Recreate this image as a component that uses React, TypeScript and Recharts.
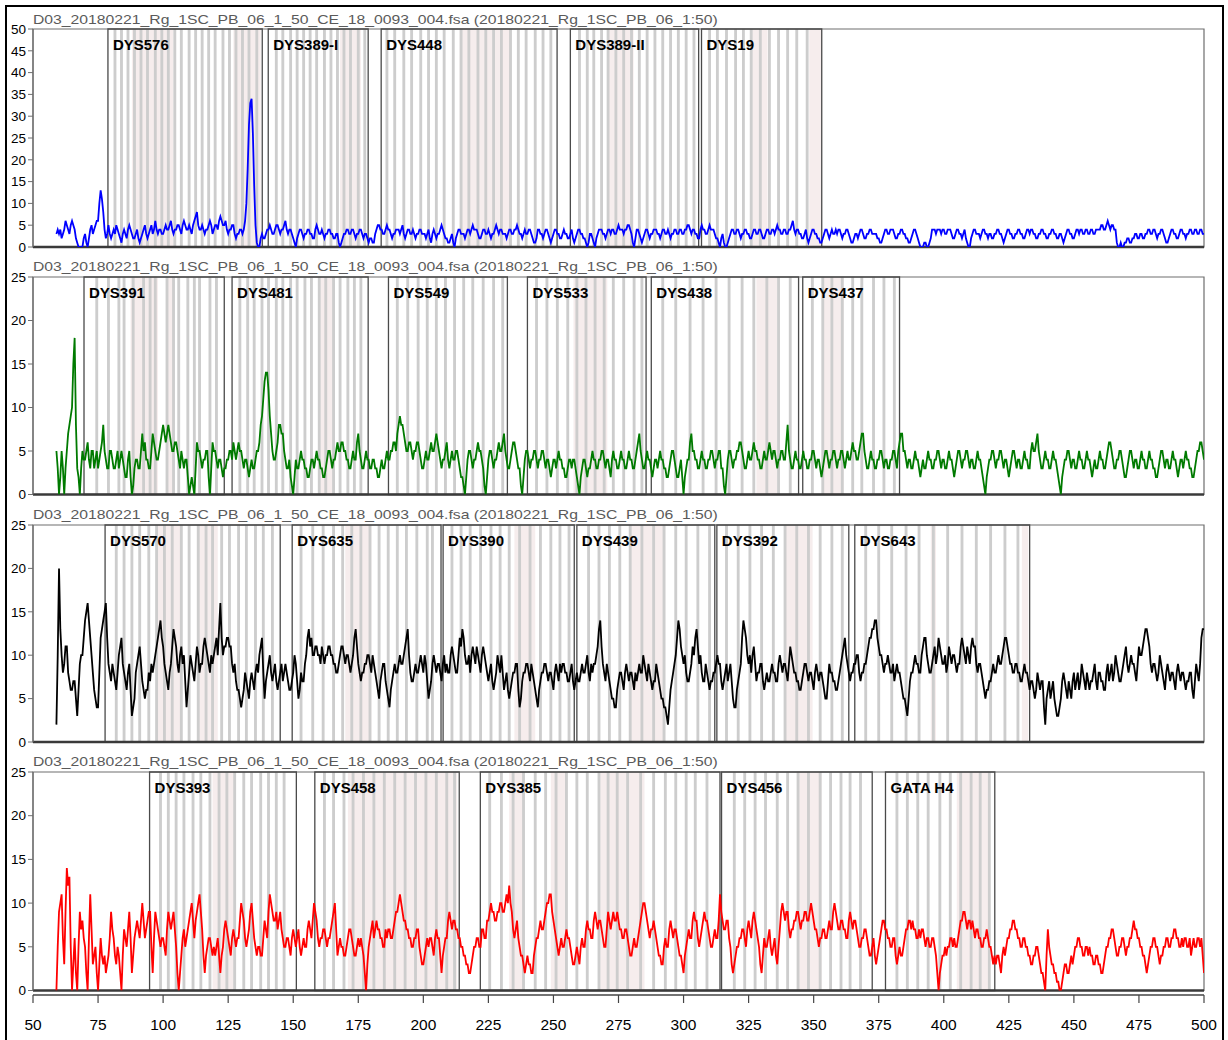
import React from 'react';
import { LineChart, Line, XAxis, YAxis, ReferenceArea, ReferenceLine } from 'recharts';

const FONT = 'Arial, "Liberation Sans", Helvetica, sans-serif';
const TITLE = 'D03_20180221_Rg_1SC_PB_06_1_50_CE_18_0093_004.fsa (20180221_Rg_1SC_PB_06_1:50)';
const START_BP = 59;
const STEP_BP = 0.5;
const X_TICKS = [50, 75, 100, 125, 150, 175, 200, 225, 250, 275, 300, 325, 350, 375, 400, 425, 450, 475, 500];
const Y_TICKS_50 = [0, 5, 10, 15, 20, 25, 30, 35, 40, 45, 50];
const Y_TICKS_25 = [0, 5, 10, 15, 20, 25];

// ---- traces (RFU, one value per 0.5 bp from 59 to 500; each row = 10 bp) ----
const blueValues = [
  3, 4,
  3, 4, 2, 3, 4, 6, 5, 4, 3, 5, 6, 5, 4, 2, 1, 0, 0, 0, 0, 2, 3, 1, 0, 2, 4, 5, 3, 4, 5, 6, 6, 10, 13, 11, 8, 4, 2, 3, 5, 3,
  2, 3, 4, 3, 5, 4, 3, 2, 1, 3, 4, 3, 2, 4, 5, 4, 3, 2, 2, 3, 4, 2, 1, 2, 3, 4, 5, 3, 2, 3, 4, 5, 3, 4, 6, 4, 3, 4, 4, 3,
  3, 4, 5, 4, 4, 5, 6, 4, 3, 4, 4, 5, 5, 4, 3, 5, 6, 5, 4, 4, 5, 4, 3, 5, 6, 7, 8, 5, 4, 4, 5, 4, 3, 4, 4, 5, 6, 5, 3, 4,
  5, 5, 4, 6, 7, 6, 5, 5, 6, 4, 3, 4, 4, 5, 5, 3, 2, 3, 3, 4, 4, 3, 4, 6, 10, 18, 28, 33, 34, 26, 14, 5, 1, 0, 0, 2, 3, 2, 2, 3,
  4, 4, 5, 4, 3, 3, 4, 5, 5, 4, 3, 4, 4, 5, 6, 4, 3, 4, 4, 3, 2, 1, 0, 2, 3, 4, 4, 3, 2, 3, 3, 4, 4, 3, 3, 2, 2, 4, 5, 4,
  3, 3, 4, 3, 2, 3, 3, 4, 4, 3, 3, 2, 2, 3, 3, 1, 0, 1, 2, 3, 3, 4, 4, 3, 3, 4, 4, 3, 2, 3, 3, 4, 4, 3, 2, 3, 3, 2, 1, 2,
  2, 1, 1, 3, 4, 5, 5, 4, 4, 3, 3, 4, 5, 4, 4, 3, 2, 3, 3, 4, 4, 4, 3, 4, 5, 3, 2, 3, 4, 4, 3, 3, 4, 3, 2, 3, 3, 4, 4, 3,
  3, 3, 2, 3, 4, 2, 1, 3, 4, 3, 2, 3, 3, 4, 5, 4, 3, 2, 2, 1, 1, 2, 3, 1, 0, 2, 3, 4, 4, 3, 3, 3, 2, 3, 4, 4, 3, 4, 5, 4,
  4, 4, 3, 2, 2, 3, 4, 4, 3, 3, 4, 3, 2, 3, 3, 4, 5, 4, 3, 4, 4, 3, 3, 3, 2, 3, 4, 4, 3, 3, 4, 4, 5, 4, 3, 3, 2, 3, 4, 3,
  3, 4, 4, 3, 2, 1, 1, 2, 4, 4, 3, 3, 2, 3, 4, 4, 3, 2, 1, 2, 3, 4, 4, 3, 3, 2, 2, 3, 4, 3, 3, 2, 2, 3, 4, 2, 1, 2, 3, 4,
  4, 3, 3, 2, 2, 1, 0, 1, 3, 3, 2, 1, 0, 2, 3, 4, 4, 4, 3, 3, 2, 3, 4, 4, 3, 4, 4, 3, 3, 4, 5, 4, 4, 4, 3, 4, 4, 5, 5, 4,
  3, 1, 0, 2, 4, 4, 3, 2, 1, 2, 3, 4, 4, 3, 2, 3, 3, 4, 4, 4, 3, 3, 2, 3, 4, 4, 3, 3, 4, 3, 2, 3, 3, 4, 4, 3, 3, 4, 4, 3,
  3, 4, 4, 5, 5, 4, 3, 4, 4, 3, 3, 2, 2, 4, 5, 4, 4, 3, 3, 4, 5, 4, 4, 4, 3, 2, 2, 1, 0, 2, 3, 1, 0, 0, 1, 2, 3, 4, 4, 3,
  3, 4, 4, 3, 2, 3, 3, 4, 4, 3, 3, 2, 2, 3, 4, 4, 3, 3, 4, 4, 3, 2, 2, 3, 4, 4, 3, 3, 4, 4, 3, 4, 5, 4, 4, 3, 3, 4, 4, 3,
  3, 4, 4, 5, 6, 4, 3, 4, 4, 3, 3, 2, 2, 3, 4, 2, 1, 2, 3, 4, 4, 3, 3, 2, 2, 1, 1, 2, 3, 4, 4, 3, 2, 3, 4, 3, 3, 4, 3, 4,
  4, 3, 2, 3, 3, 4, 4, 3, 2, 1, 1, 2, 3, 3, 2, 3, 4, 4, 3, 2, 2, 3, 3, 4, 4, 3, 3, 3, 3, 2, 2, 1, 1, 2, 3, 4, 4, 3, 3, 4,
  4, 4, 3, 2, 2, 3, 3, 4, 4, 3, 3, 2, 2, 1, 1, 2, 3, 4, 4, 3, 2, 1, 0, 0, 0, 1, 1, 0, 0, 1, 2, 4, 4, 4, 3, 4, 4, 4, 3, 4,
  4, 3, 3, 4, 4, 4, 3, 2, 2, 3, 4, 4, 3, 3, 2, 3, 4, 2, 1, 0, 0, 2, 3, 4, 4, 3, 3, 3, 2, 3, 4, 4, 3, 3, 2, 3, 3, 2, 2, 3,
  3, 4, 4, 3, 3, 2, 1, 2, 3, 4, 4, 3, 3, 2, 2, 3, 3, 4, 4, 3, 3, 2, 2, 3, 4, 4, 3, 4, 4, 3, 3, 2, 2, 3, 3, 4, 4, 3, 3, 2,
  2, 3, 3, 4, 4, 3, 3, 2, 2, 3, 3, 2, 1, 2, 3, 4, 4, 3, 3, 2, 2, 3, 4, 4, 3, 4, 4, 3, 3, 4, 4, 3, 3, 4, 4, 3, 3, 4, 4, 4,
  4, 5, 5, 4, 4, 5, 6, 5, 4, 5, 5, 4, 4, 1, 0, 0, 1, 0, 0, 1, 1, 2, 2, 1, 1, 2, 2, 3, 3, 2, 2, 3, 3, 2, 2, 3, 3, 4, 4, 3,
  3, 4, 4, 3, 2, 3, 3, 4, 4, 3, 2, 1, 1, 2, 3, 4, 4, 3, 3, 2, 2, 3, 4, 4, 3, 3, 2, 3, 3, 4, 4, 3, 3, 4, 4, 3, 3, 4, 4, 3, 3,
];

const greenValues = [
  5, 3,
  0, 2, 5, 3, 0, 3, 5, 7, 8, 9, 10, 15, 18, 8, 3, 2, 0, 3, 5, 4, 4, 5, 6, 4, 3, 5, 5, 3, 4, 5, 3, 4, 5, 6, 8, 5, 4, 3, 3, 5,
  5, 4, 3, 3, 4, 5, 3, 4, 5, 4, 3, 2, 2, 4, 5, 2, 0, 1, 3, 4, 4, 3, 3, 5, 7, 5, 6, 4, 4, 3, 3, 5, 7, 6, 5, 4, 4, 5, 6, 7,
  8, 7, 6, 7, 8, 7, 6, 5, 5, 6, 6, 5, 4, 3, 5, 4, 3, 4, 4, 2, 0, 1, 2, 1, 0, 3, 6, 5, 5, 4, 3, 4, 4, 5, 5, 2, 0, 3, 6, 5,
  5, 4, 3, 4, 4, 3, 2, 3, 3, 4, 4, 5, 5, 4, 6, 5, 4, 5, 6, 5, 5, 4, 3, 4, 4, 3, 2, 3, 4, 3, 3, 4, 5, 5, 6, 8, 9, 11, 13, 14,
  14, 12, 9, 7, 5, 4, 4, 5, 6, 8, 8, 7, 7, 5, 4, 3, 3, 4, 2, 1, 0, 2, 4, 3, 3, 4, 5, 4, 4, 3, 3, 2, 2, 3, 4, 4, 3, 4, 5, 4,
  4, 3, 3, 2, 2, 3, 4, 5, 5, 4, 3, 4, 4, 5, 6, 5, 5, 6, 6, 5, 5, 4, 4, 3, 3, 4, 5, 4, 4, 6, 7, 5, 4, 3, 3, 4, 5, 4, 4, 3,
  3, 4, 4, 3, 3, 2, 2, 3, 4, 3, 3, 4, 5, 4, 4, 5, 5, 6, 6, 5, 7, 8, 9, 8, 8, 7, 6, 5, 5, 6, 6, 5, 4, 5, 5, 6, 6, 5, 4, 3,
  3, 4, 5, 4, 4, 5, 6, 5, 5, 6, 7, 6, 5, 4, 3, 4, 4, 5, 6, 4, 3, 4, 5, 4, 4, 5, 5, 4, 3, 2, 2, 1, 0, 2, 4, 5, 5, 4, 3, 4,
  4, 5, 6, 5, 5, 4, 3, 1, 0, 2, 4, 5, 5, 4, 3, 4, 4, 5, 6, 5, 5, 6, 7, 5, 4, 3, 3, 4, 5, 6, 6, 5, 4, 3, 3, 1, 0, 2, 4, 5,
  5, 4, 3, 4, 4, 5, 5, 4, 3, 4, 4, 5, 5, 4, 3, 4, 4, 3, 2, 3, 4, 4, 3, 4, 5, 4, 4, 3, 3, 2, 2, 3, 4, 4, 3, 4, 4, 3, 2, 1,
  0, 2, 3, 4, 4, 3, 2, 3, 3, 4, 5, 4, 4, 3, 3, 4, 4, 5, 5, 4, 3, 4, 4, 3, 2, 4, 5, 4, 4, 3, 3, 4, 5, 4, 4, 3, 3, 4, 5, 4,
  4, 3, 3, 4, 5, 6, 7, 5, 4, 3, 3, 4, 5, 4, 4, 3, 2, 3, 4, 4, 3, 4, 5, 4, 4, 3, 3, 2, 2, 3, 4, 5, 5, 4, 3, 2, 2, 3, 4, 2,
  0, 2, 3, 4, 4, 6, 7, 5, 5, 4, 4, 3, 3, 4, 5, 4, 4, 3, 3, 4, 4, 5, 5, 4, 3, 4, 4, 5, 5, 3, 3, 1, 0, 2, 4, 5, 5, 4, 3, 4,
  4, 5, 5, 6, 6, 5, 4, 3, 3, 4, 5, 4, 4, 5, 6, 5, 5, 4, 4, 3, 3, 4, 5, 4, 4, 5, 6, 5, 4, 5, 5, 4, 3, 4, 4, 5, 5, 4, 4, 6,
  8, 5, 4, 3, 3, 4, 5, 4, 4, 3, 3, 4, 5, 4, 4, 3, 3, 4, 4, 5, 5, 4, 3, 4, 4, 3, 2, 3, 4, 5, 5, 4, 3, 4, 4, 5, 5, 4, 3, 4,
  4, 5, 5, 4, 3, 4, 5, 4, 4, 5, 6, 5, 5, 4, 4, 5, 6, 7, 7, 5, 4, 3, 3, 4, 5, 4, 4, 3, 3, 4, 4, 5, 5, 4, 3, 4, 4, 3, 3, 4,
  4, 5, 5, 4, 3, 5, 6, 7, 7, 5, 5, 4, 3, 4, 4, 3, 3, 4, 5, 4, 4, 3, 2, 3, 4, 3, 3, 4, 5, 4, 4, 3, 3, 4, 4, 5, 5, 4, 3, 4,
  4, 3, 3, 4, 5, 4, 4, 3, 2, 3, 4, 5, 5, 4, 3, 4, 4, 5, 5, 4, 3, 4, 4, 3, 3, 4, 5, 4, 4, 3, 2, 1, 0, 2, 3, 4, 4, 5, 5, 4,
  3, 4, 4, 5, 5, 4, 3, 4, 4, 3, 2, 3, 4, 5, 5, 4, 3, 4, 4, 3, 3, 4, 5, 4, 4, 3, 3, 5, 6, 5, 5, 6, 7, 5, 4, 3, 3, 4, 5, 4,
  4, 3, 3, 4, 5, 4, 4, 3, 2, 1, 0, 2, 3, 4, 4, 5, 5, 4, 3, 4, 4, 3, 3, 4, 5, 4, 4, 3, 3, 4, 5, 4, 4, 3, 2, 3, 4, 3, 3, 4,
  5, 4, 4, 3, 3, 4, 5, 6, 6, 5, 4, 3, 3, 4, 4, 5, 5, 4, 3, 2, 2, 3, 4, 5, 5, 4, 3, 4, 4, 3, 3, 4, 5, 4, 4, 3, 3, 4, 5, 4,
  4, 3, 3, 2, 2, 3, 4, 5, 5, 4, 3, 4, 4, 3, 3, 4, 5, 4, 4, 3, 2, 3, 4, 4, 3, 4, 5, 4, 4, 3, 3, 2, 2, 3, 4, 5, 5, 6, 6, 5, 4,
];

const blackValues = [
  2, 10,
  20, 13, 10, 8, 9, 11, 11, 8, 7, 6, 6, 7, 7, 5, 3, 6, 9, 10, 10, 12, 14, 15, 16, 14, 12, 10, 8, 6, 5, 4, 4, 8, 12, 13, 14, 15, 16, 12, 9, 8,
  7, 9, 8, 7, 6, 8, 10, 11, 12, 9, 8, 7, 6, 8, 9, 6, 3, 4, 5, 8, 9, 10, 11, 9, 7, 6, 5, 6, 6, 8, 7, 9, 8, 9, 10, 11, 12, 13, 14, 12,
  11, 9, 8, 7, 6, 8, 9, 11, 13, 12, 11, 9, 8, 10, 11, 9, 10, 7, 4, 6, 8, 10, 9, 8, 7, 9, 11, 10, 8, 9, 9, 11, 12, 11, 10, 9, 8, 10, 9, 10,
  11, 12, 10, 13, 16, 12, 10, 11, 11, 12, 12, 11, 11, 9, 8, 9, 7, 6, 6, 5, 4, 5, 6, 8, 7, 6, 5, 7, 8, 7, 6, 8, 9, 8, 10, 11, 12, 8, 5, 7,
  8, 9, 10, 8, 7, 8, 9, 7, 6, 7, 8, 9, 7, 8, 9, 8, 7, 6, 6, 7, 8, 10, 9, 7, 5, 6, 8, 7, 7, 9, 10, 12, 13, 11, 12, 10, 10, 11, 11, 10,
  10, 9, 11, 10, 9, 10, 10, 11, 11, 10, 10, 9, 9, 8, 8, 9, 10, 11, 11, 10, 9, 10, 10, 9, 8, 9, 10, 12, 13, 11, 9, 8, 7, 8, 8, 9, 9, 10, 10, 9,
  8, 10, 9, 8, 7, 6, 5, 7, 8, 9, 9, 7, 6, 5, 4, 6, 7, 8, 9, 8, 8, 9, 10, 9, 9, 10, 11, 12, 13, 10, 8, 7, 7, 8, 9, 8, 8, 9, 10, 9,
  8, 10, 9, 7, 5, 6, 7, 9, 10, 9, 8, 9, 9, 8, 7, 9, 10, 8, 9, 8, 8, 10, 11, 10, 9, 8, 8, 10, 12, 11, 13, 12, 10, 9, 9, 10, 8, 10, 11, 10,
  9, 11, 10, 9, 8, 10, 11, 10, 9, 8, 7, 8, 9, 7, 6, 7, 8, 10, 9, 8, 10, 8, 6, 7, 8, 6, 5, 6, 7, 8, 8, 9, 9, 6, 4, 5, 7, 8, 8, 9,
  9, 8, 7, 9, 8, 7, 6, 5, 4, 6, 7, 8, 8, 9, 9, 8, 7, 8, 8, 7, 6, 8, 9, 8, 7, 9, 8, 9, 9, 8, 8, 7, 7, 8, 9, 7, 6, 7, 8, 7,
  7, 8, 9, 8, 8, 9, 10, 8, 7, 9, 8, 9, 9, 10, 11, 13, 14, 11, 9, 8, 7, 9, 8, 7, 6, 5, 5, 4, 4, 6, 7, 8, 8, 7, 6, 8, 9, 8, 7, 8,
  8, 7, 6, 8, 7, 8, 9, 8, 8, 10, 9, 8, 7, 9, 8, 7, 6, 7, 7, 9, 8, 7, 6, 5, 5, 4, 4, 3, 2, 4, 6, 7, 8, 9, 10, 12, 14, 13, 11, 10,
  9, 10, 8, 7, 7, 8, 9, 11, 10, 12, 13, 11, 9, 10, 8, 7, 7, 9, 8, 7, 6, 7, 7, 8, 8, 9, 10, 9, 9, 7, 6, 7, 8, 9, 7, 8, 9, 7, 5, 4,
  4, 6, 7, 8, 9, 12, 14, 13, 12, 10, 9, 10, 8, 10, 11, 9, 7, 8, 8, 9, 9, 7, 6, 7, 8, 7, 7, 8, 9, 8, 8, 7, 7, 9, 10, 9, 8, 9, 9, 8,
  7, 9, 11, 10, 9, 8, 8, 7, 7, 6, 6, 7, 8, 9, 9, 8, 7, 8, 8, 7, 6, 8, 9, 8, 7, 8, 8, 7, 6, 5, 5, 7, 9, 8, 8, 7, 7, 6, 6, 7,
  8, 9, 10, 11, 12, 10, 9, 8, 7, 8, 8, 9, 9, 10, 10, 8, 7, 8, 8, 9, 9, 10, 11, 12, 12, 13, 13, 14, 14, 12, 11, 10, 10, 9, 8, 9, 9, 10, 9, 8,
  8, 9, 7, 8, 9, 8, 8, 7, 6, 5, 5, 4, 3, 5, 7, 8, 8, 9, 10, 9, 9, 8, 8, 10, 11, 12, 12, 10, 9, 8, 8, 9, 10, 11, 9, 10, 12, 11, 10, 9,
  9, 10, 8, 9, 11, 10, 9, 10, 10, 9, 8, 9, 9, 11, 12, 11, 10, 9, 11, 10, 9, 11, 12, 11, 11, 9, 8, 9, 9, 8, 7, 6, 5, 6, 6, 7, 7, 8, 9, 8,
  8, 9, 10, 9, 9, 10, 11, 12, 12, 11, 10, 9, 9, 8, 8, 9, 9, 8, 8, 7, 7, 8, 9, 8, 8, 7, 6, 7, 7, 6, 5, 6, 8, 7, 6, 7, 7, 4, 2, 5,
  6, 7, 5, 6, 7, 5, 4, 3, 3, 4, 5, 7, 8, 7, 6, 5, 7, 6, 5, 7, 8, 6, 7, 8, 6, 7, 9, 8, 7, 6, 8, 7, 6, 7, 7, 8, 9, 7, 6, 8,
  8, 7, 7, 6, 6, 8, 9, 7, 8, 9, 7, 8, 10, 9, 8, 7, 7, 8, 9, 10, 11, 9, 8, 9, 10, 9, 9, 8, 7, 9, 11, 10, 10, 11, 12, 13, 13, 12, 11, 9,
  8, 9, 9, 8, 7, 8, 10, 9, 8, 7, 6, 8, 9, 8, 7, 8, 8, 7, 6, 8, 9, 8, 7, 8, 8, 7, 6, 7, 7, 8, 8, 6, 5, 7, 9, 8, 7, 9, 12, 13, 13,
];

const redValues = [
  0, 5,
  9, 10, 11, 6, 3, 9, 14, 12, 13, 5, 0, 3, 6, 2, 0, 5, 9, 7, 8, 6, 5, 2, 0, 6, 11, 7, 3, 4, 5, 2, 0, 3, 6, 4, 3, 4, 2, 3, 4, 6,
  9, 7, 6, 4, 3, 5, 4, 2, 0, 4, 7, 6, 5, 7, 9, 6, 2, 4, 6, 7, 8, 7, 6, 8, 10, 8, 6, 7, 8, 9, 9, 5, 2, 6, 9, 8, 7, 6, 5, 6,
  6, 5, 4, 7, 9, 8, 7, 8, 9, 7, 5, 2, 0, 2, 4, 6, 7, 5, 6, 7, 8, 9, 10, 8, 6, 8, 9, 10, 11, 9, 7, 4, 2, 4, 5, 6, 6, 5, 4, 5,
  4, 5, 6, 4, 2, 4, 5, 7, 8, 7, 6, 5, 4, 6, 7, 6, 5, 6, 6, 8, 10, 9, 8, 6, 5, 6, 7, 9, 10, 8, 6, 5, 4, 5, 5, 4, 4, 6, 8, 7,
  6, 9, 11, 10, 9, 8, 8, 9, 7, 8, 9, 7, 6, 5, 5, 6, 6, 5, 4, 6, 7, 6, 5, 6, 7, 5, 4, 5, 6, 5, 5, 7, 8, 7, 6, 8, 10, 9, 8, 6,
  5, 6, 6, 7, 7, 6, 5, 6, 6, 7, 8, 9, 10, 7, 4, 5, 6, 5, 5, 4, 4, 5, 6, 7, 7, 6, 5, 4, 4, 5, 6, 5, 6, 5, 4, 2, 0, 3, 5, 6,
  7, 8, 6, 7, 8, 7, 7, 6, 6, 5, 5, 7, 6, 7, 7, 6, 6, 7, 8, 9, 9, 10, 11, 10, 9, 8, 8, 7, 7, 6, 6, 5, 5, 6, 6, 7, 7, 5, 4, 3,
  3, 4, 5, 6, 5, 6, 6, 5, 4, 6, 7, 6, 6, 4, 2, 4, 5, 6, 6, 8, 9, 8, 7, 8, 8, 7, 7, 6, 6, 5, 5, 4, 4, 3, 3, 2, 2, 3, 4, 5,
  5, 6, 6, 5, 5, 7, 7, 6, 6, 8, 8, 9, 10, 9, 9, 8, 8, 9, 9, 10, 10, 9, 9, 10, 11, 10, 12, 10, 9, 7, 6, 7, 8, 6, 5, 4, 4, 3, 2, 3,
  4, 3, 3, 2, 2, 4, 5, 6, 6, 7, 8, 7, 7, 8, 9, 10, 10, 11, 11, 9, 8, 7, 6, 5, 4, 5, 6, 5, 5, 6, 7, 6, 6, 5, 4, 3, 3, 4, 5, 4,
  3, 5, 6, 5, 5, 7, 8, 7, 7, 6, 6, 8, 9, 8, 7, 8, 8, 7, 6, 5, 5, 7, 9, 8, 7, 8, 9, 8, 8, 9, 8, 7, 7, 6, 6, 7, 7, 6, 5, 4,
  4, 5, 6, 5, 5, 6, 7, 8, 9, 10, 10, 9, 8, 7, 6, 7, 7, 8, 7, 6, 5, 4, 4, 3, 3, 5, 6, 5, 5, 7, 8, 7, 6, 7, 7, 6, 5, 4, 4, 3,
  2, 4, 5, 6, 7, 6, 6, 8, 9, 8, 8, 6, 5, 6, 7, 8, 9, 8, 8, 7, 6, 5, 5, 6, 7, 6, 6, 8, 11, 9, 8, 7, 7, 8, 8, 6, 5, 3, 2, 3,
  4, 5, 5, 6, 6, 7, 7, 6, 5, 7, 8, 7, 6, 8, 9, 8, 7, 6, 5, 3, 2, 4, 6, 5, 5, 6, 7, 5, 4, 5, 6, 4, 3, 5, 7, 9, 10, 9, 8, 9,
  9, 7, 6, 7, 7, 8, 8, 9, 9, 8, 7, 8, 8, 9, 9, 8, 8, 9, 10, 9, 8, 7, 7, 6, 5, 6, 6, 7, 7, 6, 6, 7, 8, 7, 7, 9, 10, 9, 8, 7,
  7, 8, 8, 7, 7, 6, 6, 8, 9, 8, 7, 8, 8, 7, 6, 5, 5, 6, 6, 7, 7, 6, 5, 4, 4, 5, 6, 4, 3, 4, 5, 6, 7, 8, 8, 7, 7, 6, 6, 5,
  5, 6, 6, 4, 3, 4, 5, 4, 4, 5, 6, 7, 7, 8, 8, 7, 8, 7, 7, 6, 6, 7, 6, 7, 7, 6, 5, 6, 6, 5, 5, 6, 6, 5, 4, 2, 0, 2, 3, 4,
  4, 5, 4, 5, 5, 6, 6, 5, 6, 5, 5, 6, 7, 8, 8, 9, 9, 8, 7, 8, 8, 7, 8, 7, 6, 7, 7, 6, 6, 5, 5, 6, 6, 7, 6, 5, 5, 4, 3, 4,
  3, 4, 4, 3, 2, 4, 5, 4, 5, 6, 6, 7, 7, 8, 8, 7, 7, 6, 6, 5, 5, 6, 6, 5, 5, 4, 4, 3, 3, 4, 4, 5, 5, 4, 3, 2, 2, 1, 0, 4,
  7, 5, 4, 3, 3, 2, 2, 1, 1, 0, 0, 1, 2, 3, 3, 2, 2, 3, 4, 3, 4, 5, 5, 6, 6, 5, 5, 4, 4, 5, 5, 4, 5, 4, 4, 3, 3, 4, 4, 3,
  3, 2, 2, 3, 4, 5, 5, 6, 6, 7, 7, 6, 5, 4, 4, 5, 5, 6, 6, 5, 4, 5, 5, 6, 6, 7, 8, 7, 7, 6, 6, 5, 5, 4, 4, 3, 2, 3, 4, 5,
  5, 6, 6, 5, 5, 4, 3, 4, 4, 5, 5, 6, 6, 5, 5, 6, 6, 7, 7, 6, 6, 5, 5, 6, 5, 6, 6, 5, 5, 6, 4, 5, 6, 5, 5, 6, 6, 5, 6, 4, 2,
];

// ---- loci (bp ranges) ----
type Locus = { name: string; start: number; end: number };
const blueLoci: Locus[] = [
  { name: 'DYS576', start: 78.8, end: 138.1 },
  { name: 'DYS389-I', start: 140.4, end: 178.8 },
  { name: 'DYS448', start: 183.8, end: 251.4 },
  { name: 'DYS389-II', start: 256.5, end: 305.8 },
  { name: 'DYS19', start: 306.9, end: 353.1 },
];
const greenLoci: Locus[] = [
  { name: 'DYS391', start: 69.6, end: 123.5 },
  { name: 'DYS481', start: 126.5, end: 178.8 },
  { name: 'DYS549', start: 186.6, end: 232.3 },
  { name: 'DYS533', start: 240, end: 285.6 },
  { name: 'DYS438', start: 287.6, end: 344.2 },
  { name: 'DYS437', start: 345.8, end: 383 },
];
const blackLoci: Locus[] = [
  { name: 'DYS570', start: 77.7, end: 145 },
  { name: 'DYS635', start: 149.6, end: 206.8 },
  { name: 'DYS390', start: 207.6, end: 258 },
  { name: 'DYS439', start: 259, end: 312 },
  { name: 'DYS392', start: 312.8, end: 363.5 },
  { name: 'DYS643', start: 365.8, end: 433 },
];
const redLoci: Locus[] = [
  { name: 'DYS393', start: 94.8, end: 151.2 },
  { name: 'DYS458', start: 158.3, end: 213.8 },
  { name: 'DYS385', start: 221.9, end: 314.0 },
  { name: 'DYS456', start: 314.6, end: 372.5 },
  { name: 'GATA H4', start: 377.6, end: 419.6 },
];

// ---- allele bins (bp) ----
const blueBins = [
  81.5, 84, 86.5, 89, 91.5, 94, 97, 99.5, 102, 104.5, 107, 110, 112.5, 115, 117.5, 120, 123, 125.5, 128, 130.5, 133, 136,
  143.5, 146, 149, 151.5, 154, 156.5, 159, 162, 164.5, 167, 169.5, 172, 175, 177.5,
  186, 189, 192.5, 195.5, 199, 202, 205, 208, 211.5, 214.5, 217.5, 221, 224, 227, 230, 233.5, 236.5, 239.5, 243, 246, 249,
  260, 263, 265.5, 268.5, 271, 274, 277, 280, 283, 286, 289, 292, 295, 298, 301, 304,
  310, 313, 316.5, 320, 323, 326, 329.5, 333, 336.5, 340, 343.5, 347.5,
];
const greenBins = [
  74.5, 79, 83, 85, 88.5, 92.5, 95, 97, 101.5, 104, 106, 109.5, 112, 114, 118, 120.5,
  129.5, 132.5, 135, 138, 140.5, 143.5, 146, 149, 151.5, 154.5, 157, 160, 162.5, 165.5, 168, 171, 173.5, 176,
  190, 194, 198, 201.5, 205, 208.5, 212, 215.5, 219, 223, 227, 230.5,
  243.5, 247.5, 251.5, 255.5, 259, 262.5, 266, 269.5, 273, 277, 281, 284,
  292, 297, 302.5, 307.5, 312.5, 317.5, 322.5, 327, 332, 336.5, 341,
  349.5, 353.5, 357, 361, 365, 368.5, 373, 377, 381,
];
const blackBins = [
  82, 85, 88, 91, 94.5, 97.5, 100.5, 103.5, 107, 110, 113.5, 116.5, 119, 122.5, 125.5, 129, 132, 135.5, 138.5, 142,
  153, 157.5, 161.5, 165.5, 169, 172.5, 176, 179.5, 183, 186.5, 190, 193.5, 197.5, 201.5, 203.5,
  211, 214.5, 218, 222, 226, 229.5, 233, 237, 241, 245, 249, 252.5, 256,
  263.5, 267.5, 271.5, 275.5, 279.5, 284, 288.5, 292.5, 297, 301, 305.5, 310,
  316.5, 321, 325.5, 330, 334.5, 339, 343.5, 348, 352.5, 357, 361,
  370, 375, 380, 385.5, 390.5, 396, 401.5, 407, 412.5, 418, 423.5, 428.5,
];
const redBins = [
  99, 102, 105, 108, 111.5, 114.5, 118, 121.5, 124.5, 127.5, 131, 134, 137.5, 140.5, 143.5, 146.5,
  162, 165.5, 169.5, 173, 177, 181, 185, 189, 193, 197, 201, 205, 209, 212,
  225.5, 230, 234.5, 238.5, 243, 247, 251, 255, 259, 263, 267.5, 271, 274.5, 278.5, 283.5, 288.5, 293, 297, 301, 304.5, 309,
  319.5, 323.5, 327.5, 331.5, 336, 340, 344, 348, 352.5, 356.5, 360.5, 364, 368,
  382, 386, 390, 394, 398.5, 402.5, 406.5, 410.5, 414, 417.5,
];

// ---- shaded (pink) bin regions (bp) ----
const bluePink: [number, number][] = [[88, 104], [127, 137.5], [168, 176], [214, 233.5], [270.7, 280.8], [325.8, 332.3], [348.3, 353]];
const greenPink: [number, number][] = [[87.5, 98], [101.5, 104], [160.4, 165.4], [257.7, 270.7], [328, 336], [353.5, 361.5]];
const blackPink: [number, number][] = [[98, 107], [113, 121], [170, 180], [235, 243], [279, 293], [338.7, 349.6], [395, 397], [430, 432.5]];
const redPink: [number, number][] = [[119, 128], [171, 213], [233, 239], [249, 255], [268, 285], [344, 353], [405, 417]];

const CHART_W = 1228;
const Y_AXIS_W = 33;
const RIGHT_MARGIN = 24;

function toSeries(values: number[]) {
  return values.map((v, i) => ({ bp: START_BP + i * STEP_BP, rfu: v }));
}

function LocusLabel(props: any) {
  const vb = props.viewBox || { x: 0, y: 0 };
  return (
    <text x={vb.x + 5} y={vb.y + 21} fontFamily={FONT} fontSize={15} fontWeight="bold" fill="#000">
      {props.name}
    </text>
  );
}

type PanelProps = {
  top: number;
  plotTop: number;
  plotBottom: number;
  values: number[];
  color: string;
  yMax: number;
  yTicks: number[];
  loci: Locus[];
  bins: number[];
  pinks: [number, number][];
};

function Panel({ top, plotTop, plotBottom, values, color, yMax, yTicks, loci, bins, pinks }: PanelProps) {
  const height = Math.ceil(plotBottom - top) + 10;
  const data = toSeries(values);
  return (
    <div style={{ position: 'absolute', left: 0, top, width: CHART_W, height }}>
      <LineChart
        width={CHART_W}
        height={height}
        data={data}
        margin={{ top: plotTop - top, right: RIGHT_MARGIN, bottom: top + height - plotBottom, left: 0 }}
      >
        <XAxis dataKey="bp" type="number" domain={[50, 500]} hide allowDataOverflow />
        <YAxis
          type="number"
          domain={[0, yMax]}
          ticks={yTicks}
          interval={0}
          width={Y_AXIS_W}
          tickSize={5}
          tickMargin={2}
          allowDataOverflow
          axisLine={{ stroke: '#6e6e6e', strokeWidth: 1.2 }}
          tickLine={{ stroke: '#6e6e6e' }}
          tick={{ fontSize: 13.5, fill: '#000', fontFamily: FONT }}
        />
        {pinks.map(([a, b], i) => (
          <ReferenceArea key={'p' + i} x1={a} x2={b} y1={0} y2={yMax} fill="#f6eded" fillOpacity={1} stroke="none" />
        ))}
        {bins.map((b, i) => (
          <ReferenceArea key={'b' + i} x1={b - 0.55} x2={b + 0.55} y1={0} y2={yMax} fill="#cdcdcd" fillOpacity={1} stroke="none" />
        ))}
        <ReferenceArea x1={50} x2={500} y1={0} y2={yMax} fill="none" stroke="#6e6e6e" strokeWidth={1.2} />
        {loci.map((l, i) => (
          <ReferenceArea
            key={'l' + i}
            x1={l.start}
            x2={l.end}
            y1={0}
            y2={yMax}
            fill="none"
            stroke="#4a4a4a"
            strokeWidth={1.3}
            label={<LocusLabel name={l.name} />}
          />
        ))}
        <ReferenceLine y={0} stroke="#3a3a3a" strokeWidth={2.5} />
        <Line type="linear" dataKey="rfu" stroke={color} strokeWidth={1.8} dot={false} isAnimationActive={false} />
      </LineChart>
    </div>
  );
}

function Title({ top }: { top: number }) {
  return (
    <div
      style={{
        position: 'absolute',
        left: 33,
        top,
        fontFamily: FONT,
        fontSize: 13,
        lineHeight: '13px',
        color: '#5a5a5a',
        whiteSpace: 'nowrap',
        transform: 'scaleX(1.21)',
        transformOrigin: 'left top',
      }}
    >
      {TITLE}
    </div>
  );
}

export default function App() {
  const axisData = X_TICKS.map((t) => ({ bp: t }));
  return (
    <div style={{ position: 'absolute', left: 0, top: 0, width: 1228, height: 1040, background: '#fff', overflow: 'hidden' }}>
      <div
        style={{
          position: 'absolute',
          left: 5,
          top: 5,
          width: 1219,
          height: 1050,
          border: '2px solid #000',
          boxSizing: 'border-box',
        }}
      />
      <Title top={13} />
      <Panel top={0} plotTop={29} plotBottom={247} values={blueValues} color="#0000ff" yMax={50} yTicks={Y_TICKS_50} loci={blueLoci} bins={blueBins} pinks={bluePink} />
      <Title top={259.7} />
      <Panel top={250} plotTop={277} plotBottom={494.5} values={greenValues} color="#007a00" yMax={25} yTicks={Y_TICKS_25} loci={greenLoci} bins={greenBins} pinks={greenPink} />
      <Title top={508} />
      <Panel top={498} plotTop={525} plotBottom={742} values={blackValues} color="#000000" yMax={25} yTicks={Y_TICKS_25} loci={blackLoci} bins={blackBins} pinks={blackPink} />
      <Title top={755.4} />
      <Panel top={745} plotTop={772} plotBottom={990.5} values={redValues} color="#ff0000" yMax={25} yTicks={Y_TICKS_25} loci={redLoci} bins={redBins} pinks={redPink} />
      <div style={{ position: 'absolute', left: 0, top: 985, width: CHART_W, height: 55 }}>
        <LineChart width={CHART_W} height={55} data={axisData} margin={{ top: 5, right: RIGHT_MARGIN, bottom: 0, left: Y_AXIS_W }}>
          <XAxis
            dataKey="bp"
            type="number"
            domain={[50, 500]}
            ticks={X_TICKS}
            interval={0}
            height={45}
            tickSize={8}
            tickMargin={16}
            allowDataOverflow
            axisLine={{ stroke: '#444', strokeWidth: 1.5 }}
            tickLine={{ stroke: '#444', strokeWidth: 1.2 }}
            tick={{ fontSize: 15.5, fill: '#000', fontFamily: FONT }}
          />
          <YAxis type="number" domain={[0, 1]} hide />
        </LineChart>
      </div>
    </div>
  );
}
